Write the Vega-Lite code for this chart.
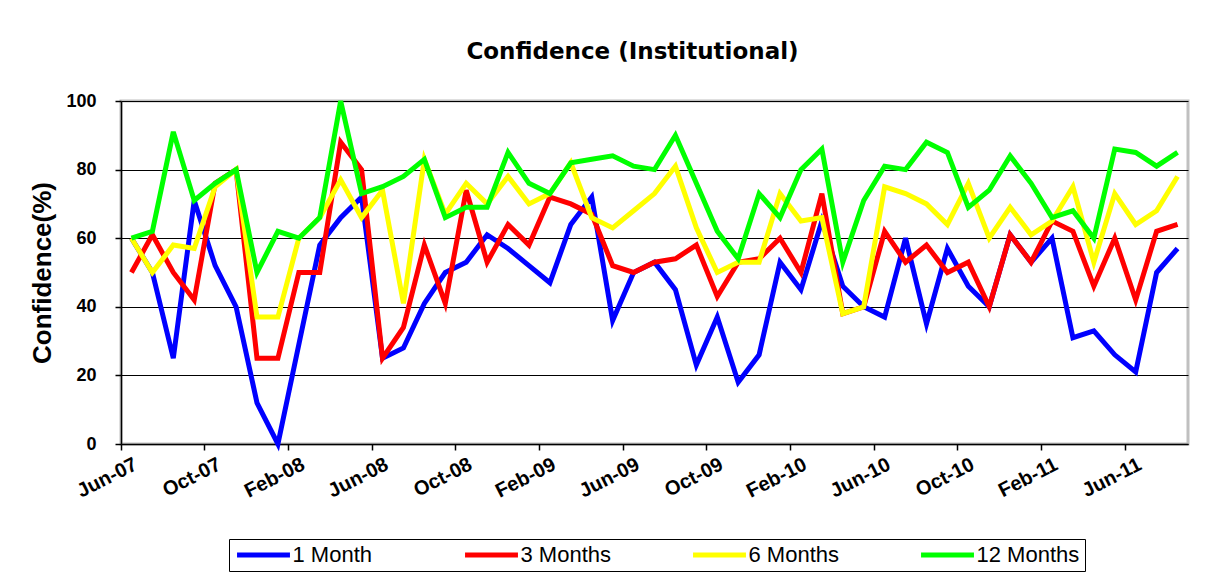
{
  "$schema": "https://vega.github.io/schema/vega-lite/v6.json",
  "width": 1067,
  "height": 343,
  "autosize": {"type": "none"},
  "padding": {"left": 121, "top": 101, "right": 29, "bottom": 143},
  "background": "white",
  "title": {
    "text": "Confidence (Institutional)",
    "font": "DejaVu Sans",
    "fontSize": 23,
    "fontWeight": "bold",
    "color": "black",
    "anchor": "middle",
    "dx": -22,
    "offset": 27
  },
  "config": {
    "view": {"stroke": "#c0c0c0", "strokeWidth": 3},
    "axis": {
      "labelFont": "Liberation Sans",
      "labelFontWeight": "bold",
      "labelColor": "black",
      "titleFont": "Liberation Sans",
      "titleFontWeight": "bold",
      "titleColor": "black",
      "domainColor": "black",
      "tickColor": "black",
      "domainWidth": 1.5,
      "tickWidth": 1.5,
      "tickSize": 6
    },
    "legend": {
      "labelFont": "Liberation Sans",
      "labelColor": "black"
    }
  },
  "data": {
    "values": [
      {"month": "Jun-07", "1 Month": 60, "3 Months": 50, "6 Months": 60, "12 Months": 60},
      {"month": "Jul-07", "1 Month": 50, "3 Months": 61, "6 Months": 50, "12 Months": 62},
      {"month": "Aug-07", "1 Month": 25, "3 Months": 50, "6 Months": 58, "12 Months": 91},
      {"month": "Sep-07", "1 Month": 71, "3 Months": 42, "6 Months": 57, "12 Months": 71},
      {"month": "Oct-07", "1 Month": 52, "3 Months": 76, "6 Months": 75, "12 Months": 76},
      {"month": "Nov-07", "1 Month": 40, "3 Months": 80, "6 Months": 80, "12 Months": 80},
      {"month": "Dec-07", "1 Month": 12, "3 Months": 25, "6 Months": 37, "12 Months": 50},
      {"month": "Jan-08", "1 Month": 0, "3 Months": 25, "6 Months": 37, "12 Months": 62},
      {"month": "Feb-08", "1 Month": 29, "3 Months": 50, "6 Months": 60, "12 Months": 60},
      {"month": "Mar-08", "1 Month": 58, "3 Months": 50, "6 Months": 66, "12 Months": 66},
      {"month": "Apr-08", "1 Month": 66, "3 Months": 88, "6 Months": 77, "12 Months": 100},
      {"month": "May-08", "1 Month": 72, "3 Months": 80, "6 Months": 66, "12 Months": 73},
      {"month": "Jun-08", "1 Month": 25, "3 Months": 25, "6 Months": 74, "12 Months": 75},
      {"month": "Jul-08", "1 Month": 28, "3 Months": 34, "6 Months": 41, "12 Months": 78},
      {"month": "Aug-08", "1 Month": 41, "3 Months": 58, "6 Months": 83, "12 Months": 83},
      {"month": "Sep-08", "1 Month": 50, "3 Months": 41, "6 Months": 67, "12 Months": 66},
      {"month": "Oct-08", "1 Month": 53, "3 Months": 74, "6 Months": 76, "12 Months": 69},
      {"month": "Nov-08", "1 Month": 61, "3 Months": 53, "6 Months": 70, "12 Months": 69},
      {"month": "Dec-08", "1 Month": 57, "3 Months": 64, "6 Months": 78, "12 Months": 85},
      {"month": "Jan-09", "1 Month": 52, "3 Months": 58, "6 Months": 70, "12 Months": 76},
      {"month": "Feb-09", "1 Month": 47, "3 Months": 72, "6 Months": 73, "12 Months": 73},
      {"month": "Mar-09", "1 Month": 64, "3 Months": 70, "6 Months": 82, "12 Months": 82},
      {"month": "Apr-09", "1 Month": 72, "3 Months": 67, "6 Months": 66, "12 Months": 83},
      {"month": "May-09", "1 Month": 36, "3 Months": 52, "6 Months": 63, "12 Months": 84},
      {"month": "Jun-09", "1 Month": 50, "3 Months": 50, "6 Months": 68, "12 Months": 81},
      {"month": "Jul-09", "1 Month": 53, "3 Months": 53, "6 Months": 73, "12 Months": 80},
      {"month": "Aug-09", "1 Month": 45, "3 Months": 54, "6 Months": 81, "12 Months": 90},
      {"month": "Sep-09", "1 Month": 23, "3 Months": 58, "6 Months": 63, "12 Months": 76},
      {"month": "Oct-09", "1 Month": 37, "3 Months": 43, "6 Months": 50, "12 Months": 62},
      {"month": "Nov-09", "1 Month": 18, "3 Months": 53, "6 Months": 53, "12 Months": 54},
      {"month": "Dec-09", "1 Month": 26, "3 Months": 54, "6 Months": 53, "12 Months": 73},
      {"month": "Jan-10", "1 Month": 53, "3 Months": 60, "6 Months": 73, "12 Months": 66},
      {"month": "Feb-10", "1 Month": 45, "3 Months": 50, "6 Months": 65, "12 Months": 80},
      {"month": "Mar-10", "1 Month": 65, "3 Months": 73, "6 Months": 66, "12 Months": 86},
      {"month": "Apr-10", "1 Month": 46, "3 Months": 38, "6 Months": 38, "12 Months": 53},
      {"month": "May-10", "1 Month": 40, "3 Months": 40, "6 Months": 40, "12 Months": 71},
      {"month": "Jun-10", "1 Month": 37, "3 Months": 62, "6 Months": 75, "12 Months": 81},
      {"month": "Jul-10", "1 Month": 60, "3 Months": 53, "6 Months": 73, "12 Months": 80},
      {"month": "Aug-10", "1 Month": 35, "3 Months": 58, "6 Months": 70, "12 Months": 88},
      {"month": "Sep-10", "1 Month": 57, "3 Months": 50, "6 Months": 64, "12 Months": 85},
      {"month": "Oct-10", "1 Month": 46, "3 Months": 53, "6 Months": 76, "12 Months": 69},
      {"month": "Nov-10", "1 Month": 40, "3 Months": 40, "6 Months": 60, "12 Months": 74},
      {"month": "Dec-10", "1 Month": 61, "3 Months": 61, "6 Months": 69, "12 Months": 84},
      {"month": "Jan-11", "1 Month": 53, "3 Months": 53, "6 Months": 61, "12 Months": 76},
      {"month": "Feb-11", "1 Month": 60, "3 Months": 65, "6 Months": 65, "12 Months": 66},
      {"month": "Mar-11", "1 Month": 31, "3 Months": 62, "6 Months": 75, "12 Months": 68},
      {"month": "Apr-11", "1 Month": 33, "3 Months": 46, "6 Months": 53, "12 Months": 60},
      {"month": "May-11", "1 Month": 26, "3 Months": 60, "6 Months": 73, "12 Months": 86},
      {"month": "Jun-11", "1 Month": 21, "3 Months": 42, "6 Months": 64, "12 Months": 85},
      {"month": "Jul-11", "1 Month": 50, "3 Months": 62, "6 Months": 68, "12 Months": 81},
      {"month": "Aug-11", "1 Month": 57, "3 Months": 64, "6 Months": 78, "12 Months": 85}
    ]
  },
  "transform": [
    {"fold": ["1 Month", "3 Months", "6 Months", "12 Months"], "as": ["series", "value"]}
  ],
  "encoding": {
    "x": {
      "field": "month",
      "type": "ordinal",
      "sort": null,
      "scale": {"type": "band", "paddingInner": 0, "paddingOuter": 0},
      "axis": {
        "title": null,
        "values": ["Jun-07", "Oct-07", "Feb-08", "Jun-08", "Oct-08", "Feb-09", "Jun-09", "Oct-09", "Feb-10", "Jun-10", "Oct-10", "Feb-11", "Jun-11"],
        "bandPosition": 0,
        "labelAngle": -27,
        "labelAlign": "right",
        "labelBaseline": "top",
        "labelFontSize": 20,
        "labelPadding": 4,
        "grid": false
      }
    },
    "y": {
      "field": "value",
      "type": "quantitative",
      "scale": {"domain": [0, 100], "nice": false},
      "axis": {
        "title": "Confidence(%)",
        "titleFontSize": 26,
        "titlePadding": 10,
        "values": [0, 20, 40, 60, 80, 100],
        "labelFontSize": 18,
        "labelPadding": 19,
        "grid": true,
        "gridColor": "black",
        "gridWidth": 1,
        "gridOpacity": 1
      }
    },
    "color": {
      "field": "series",
      "type": "nominal",
      "scale": {
        "domain": ["1 Month", "3 Months", "6 Months", "12 Months"],
        "range": ["#0000ff", "#ff0000", "#ffff00", "#00ff00"]
      },
      "legend": {
        "title": null,
        "orient": "none",
        "legendX": 108,
        "legendY": 438,
        "direction": "horizontal",
        "columns": 4,
        "gridAlign": "all",
        "columnPadding": 59,
        "symbolType": "M-5,0H5",
        "symbolSize": 112,
        "symbolOffset": 18.5,
        "symbolStrokeWidth": 5,
        "labelFontSize": 22,
        "labelOffset": 18,
        "padding": 5,
        "strokeColor": "black",
        "fillColor": "white"
      }
    }
  },
  "layer": [
    {"transform": [{"filter": "datum.series === '1 Month'"}], "mark": {"type": "line", "strokeWidth": 5}},
    {"transform": [{"filter": "datum.series === '3 Months'"}], "mark": {"type": "line", "strokeWidth": 5}},
    {"transform": [{"filter": "datum.series === '6 Months'"}], "mark": {"type": "line", "strokeWidth": 5}},
    {"transform": [{"filter": "datum.series === '12 Months'"}], "mark": {"type": "line", "strokeWidth": 5}}
  ]
}
